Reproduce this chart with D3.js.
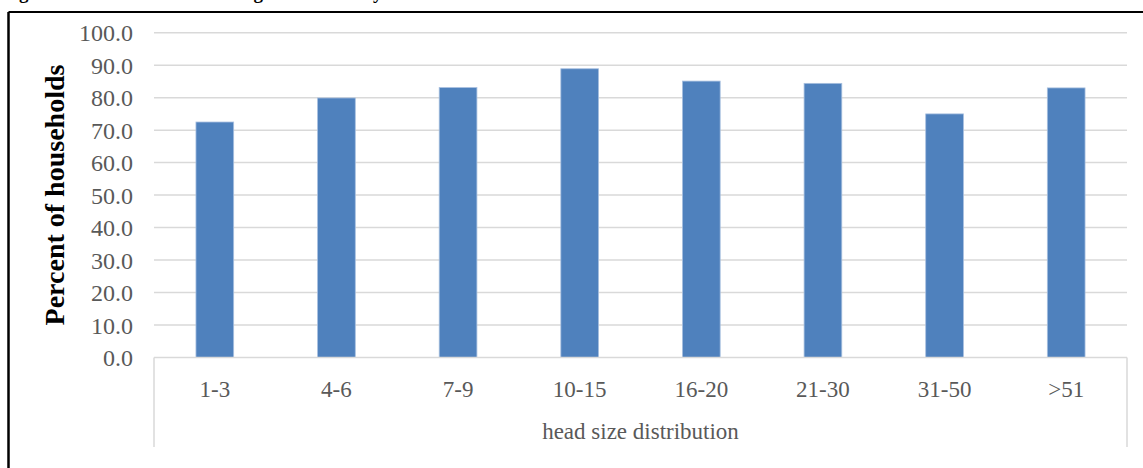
<!DOCTYPE html>
<html>
<head>
<meta charset="utf-8">
<script src="https://cdn.jsdelivr.net/npm/d3@7"></script>
<style>
  html, body { margin: 0; padding: 0; background: #fff; }
  svg { display: block; }
</style>
</head>
<body>
<svg id="chart" width="1143" height="468"></svg>
<script>
// Herd size classes and share of households in each
const categories = ["1-3", "4-6", "7-9", "10-15", "16-20", "21-30", "31-50", ">51"];
const values = [72.5, 79.9, 83.1, 88.9, 85.1, 84.4, 75.0, 83.0];
const yTicks = [0, 10, 20, 30, 40, 50, 60, 70, 80, 90, 100];

const svg = d3.select("#chart");
const W = 1143, H = 468;
const plot = { left: 154, right: 1127, top: 32.7, bottom: 357.5 };

const serif = "'Liberation Serif', 'Times New Roman', serif";
const grey = "#595959";

// Caption above the frame (only its lower edge falls inside the view)
svg.append("text")
  .attr("x", 2).attr("y", -1)
  .attr("font-family", serif).attr("font-weight", "bold")
  .attr("font-size", 19).attr("fill", "#000")
  .text("Figure 3: Share of cattle-owning households by herd size");

// Frame around the chart
svg.append("line").attr("x1", 8.5).attr("x2", W + 5).attr("y1", 12).attr("y2", 12)
  .attr("stroke", "#000").attr("stroke-width", 2);
svg.append("line").attr("x1", 8.5).attr("x2", 8.5).attr("y1", 12).attr("y2", H + 5)
  .attr("stroke", "#000").attr("stroke-width", 2.5);

const x = d3.scaleBand().domain(categories).range([plot.left, plot.right]).padding(0);
const y = d3.scaleLinear().domain([0, 100]).range([plot.bottom, plot.top]);

// Horizontal gridlines
svg.append("g").selectAll("line").data(yTicks.filter(d => d > 0)).join("line")
  .attr("x1", plot.left).attr("x2", plot.right)
  .attr("y1", d => y(d)).attr("y2", d => y(d))
  .attr("stroke", "#d9d9d9").attr("stroke-width", 1.5);

// Y axis labels
const yAxis = d3.axisLeft(y).tickValues(yTicks).tickFormat(d3.format(".1f")).tickSize(0).tickPadding(0);
const gy = svg.append("g").attr("transform", `translate(${plot.left - 21},0)`).call(yAxis);
gy.select(".domain").remove();
gy.selectAll("text")
  .attr("font-family", serif).attr("font-size", 24).attr("fill", grey)
  .attr("dy", "0.34em");

// Bars
const barFrac = 0.31;
svg.append("g").selectAll("rect").data(values).join("rect")
  .attr("x", (d, i) => x(categories[i]) + x.bandwidth() * (1 - barFrac) / 2)
  .attr("width", x.bandwidth() * barFrac)
  .attr("y", d => y(d))
  .attr("height", d => y(0) - y(d))
  .attr("fill", "#4f81bd")
  .attr("stroke", "#a7bfdf").attr("stroke-width", 0.8);

// Category axis: baseline and outer separators
const axisColor = "#d9d9d9";
svg.append("line").attr("x1", plot.left).attr("x2", plot.right)
  .attr("y1", plot.bottom).attr("y2", plot.bottom)
  .attr("stroke", axisColor).attr("stroke-width", 1.5);
[plot.left, plot.right].forEach(px => {
  svg.append("line").attr("x1", px).attr("x2", px)
    .attr("y1", plot.bottom).attr("y2", 447)
    .attr("stroke", axisColor).attr("stroke-width", 1.5);
});

const xAxis = d3.axisBottom(x).tickSize(0).tickPadding(0);
const gx = svg.append("g").attr("transform", "translate(0,397)").call(xAxis);
gx.select(".domain").remove();
gx.selectAll("text")
  .attr("font-family", serif).attr("font-size", 23).attr("fill", grey)
  .attr("dy", 0);

// Axis titles
svg.append("text")
  .attr("x", (plot.left + plot.right) / 2).attr("y", 439)
  .attr("text-anchor", "middle")
  .attr("font-family", serif).attr("font-size", 23).attr("fill", grey)
  .text("head size distribution");

svg.append("text")
  .attr("transform", `translate(64,${(65 + 325) / 2}) rotate(-90)`)
  .attr("text-anchor", "middle")
  .attr("font-family", serif).attr("font-weight", "bold")
  .attr("font-size", 28).attr("fill", "#000")
  .text("Percent of households");
</script>
</body>
</html>
